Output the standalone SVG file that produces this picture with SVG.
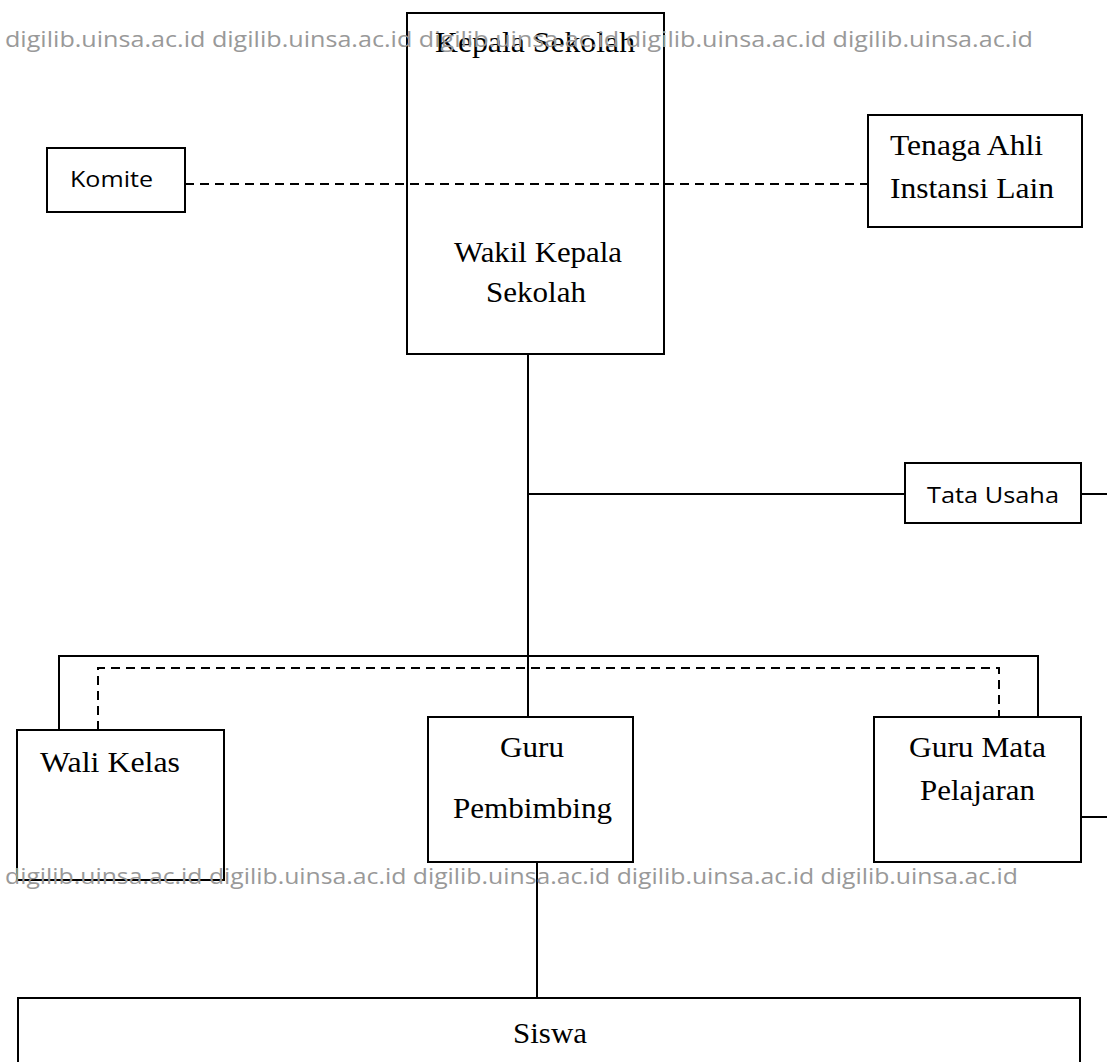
<svg xmlns="http://www.w3.org/2000/svg" width="1107" height="1062" viewBox="0 0 1107 1062">
<style>
.box{fill:#fff;stroke:#000;stroke-width:2}
.ln{fill:none;stroke:#000;stroke-width:2}
.dash{fill:none;stroke:#000;stroke-width:2;stroke-dasharray:9,6}
.serif{font-family:"Liberation Serif","Times New Roman",serif;font-size:29px;fill:#000}
.sans{font-family:"Open Sans","Liberation Sans",sans-serif;font-size:21px;fill:#000}
.wm{font-family:"Open Sans","Liberation Sans",sans-serif;font-size:21px;fill:#999}
</style>
<rect width="1107" height="1062" fill="#fff"/>
<g id="kepala">
<rect class="box" x="407" y="13" width="257" height="341"/>
<text class="serif" x="435" y="52" textLength="200" lengthAdjust="spacingAndGlyphs">Kepala Sekolah</text>
<text class="serif" x="454" y="262" textLength="168" lengthAdjust="spacingAndGlyphs">Wakil Kepala</text>
<text class="serif" x="486" y="302" textLength="100" lengthAdjust="spacingAndGlyphs">Sekolah</text>
</g>
<g id="komite">
<rect class="box" x="47" y="148" width="138" height="64"/>
<text class="sans" x="70" y="187" textLength="83" lengthAdjust="spacingAndGlyphs">Komite</text>
</g>
<g id="tenaga">
<rect class="box" x="868" y="115" width="214" height="112"/>
<text class="serif" x="890" y="155" textLength="153" lengthAdjust="spacingAndGlyphs">Tenaga Ahli</text>
<text class="serif" x="890" y="198" textLength="164" lengthAdjust="spacingAndGlyphs">Instansi Lain</text>
</g>
<g id="tatausaha">
<rect class="box" x="905" y="463" width="176" height="60"/>
<text class="sans" x="927" y="503" textLength="132" lengthAdjust="spacingAndGlyphs">Tata Usaha</text>
</g>
<g id="walikelas">
<rect class="box" x="17" y="730" width="207" height="150"/>
<text class="serif" x="40" y="772" textLength="140" lengthAdjust="spacingAndGlyphs">Wali Kelas</text>
</g>
<g id="gurupembimbing">
<rect class="box" x="428" y="717" width="205" height="145"/>
<text class="serif" x="500" y="757" textLength="64" lengthAdjust="spacingAndGlyphs">Guru</text>
<text class="serif" x="453" y="818" textLength="159" lengthAdjust="spacingAndGlyphs">Pembimbing</text>
</g>
<g id="gurumata">
<rect class="box" x="874" y="717" width="207" height="145"/>
<text class="serif" x="909" y="757" textLength="137" lengthAdjust="spacingAndGlyphs">Guru Mata</text>
<text class="serif" x="920" y="800" textLength="115" lengthAdjust="spacingAndGlyphs">Pelajaran</text>
</g>
<g id="siswa">
<rect class="box" x="18" y="998" width="1062" height="80"/>
<text class="serif" x="513" y="1043" textLength="74" lengthAdjust="spacingAndGlyphs">Siswa</text>
</g>
<g id="connectors">
<line class="dash" x1="185" y1="184" x2="868" y2="184"/>
<line class="ln" x1="528" y1="354" x2="528" y2="717"/>
<line class="ln" x1="528" y1="494" x2="905" y2="494"/>
<line class="ln" x1="1081" y1="494" x2="1107" y2="494"/>
<polyline class="ln" points="59,730 59,656 1038,656 1038,717"/>
<polyline class="dash" points="98,730 98,668 999,668 999,717"/>
<line class="ln" x1="1081" y1="817" x2="1107" y2="817"/>
<line class="ln" x1="537" y1="862" x2="537" y2="998"/>
</g>
<g id="watermark">
<text class="wm" x="5" y="47" textLength="1028" lengthAdjust="spacingAndGlyphs">digilib.uinsa.ac.id digilib.uinsa.ac.id digilib.uinsa.ac.id digilib.uinsa.ac.id digilib.uinsa.ac.id</text>
<text class="wm" x="5" y="884" textLength="1013" lengthAdjust="spacingAndGlyphs">digilib.uinsa.ac.id digilib.uinsa.ac.id digilib.uinsa.ac.id digilib.uinsa.ac.id digilib.uinsa.ac.id</text>
</g>
</svg>
